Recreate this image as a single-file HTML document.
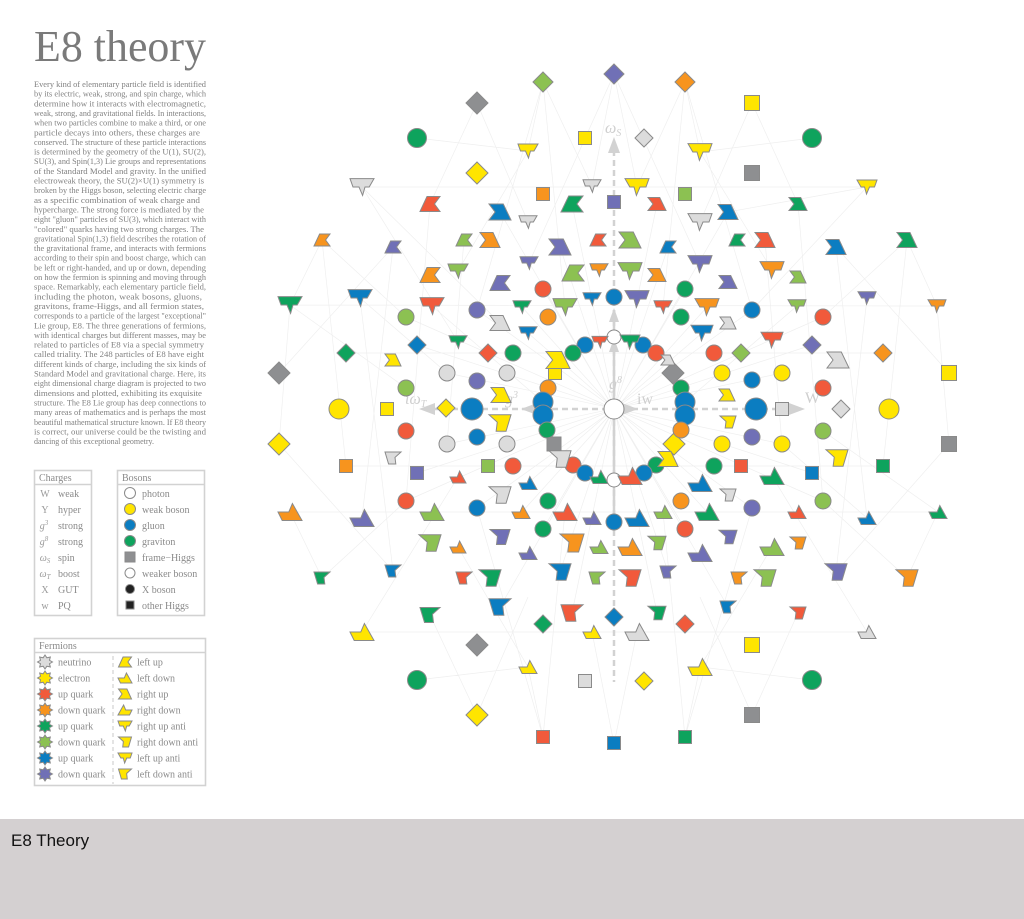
<!DOCTYPE html>
<html><head><meta charset="utf-8"><style>
html,body{margin:0;padding:0;background:#fff;}
body{width:1024px;height:919px;position:relative;overflow:hidden;}
#bar{position:absolute;left:0;top:819px;width:1024px;height:100px;background:#d4d0d1;}
.bt{position:absolute;left:11px;top:831px;font:17px "Liberation Sans",sans-serif;color:#111;}
svg text{font-family:"Liberation Serif",serif;}
.r{fill:#f15a3b}.o{fill:#f7941e}.g{fill:#0ea35d}.lg{fill:#8cc152}.b{fill:#0b7dc1}.p{fill:#7070b6}.y{fill:#ffe500}.lgr{fill:#dcdcdc}.dg{fill:#8e8f91}.w{fill:#fff}.k{fill:#222}
.sh circle,.sh rect,.sh use,.sh polygon{stroke:#8a8a8a;stroke-width:1}
</style></head><body>
<svg width="1024" height="819" viewBox="0 0 1024 819" style="position:absolute;left:0;top:0">
<defs>
<polygon id="FL" vector-effect="non-scaling-stroke" points="-1,-1 1,-1 0.6,0 0.25,0 0.05,1 -0.25,0 -0.75,0"/>
<polygon id="FR" vector-effect="non-scaling-stroke" points="1,-1 -1,-1 -0.6,0 -0.25,0 -0.05,1 0.25,0 0.75,0"/>
<polygon id="NL" vector-effect="non-scaling-stroke" points="-1,-1 0.3,-1 1,1 -1,1 -0.45,0"/>
<polygon id="NR" vector-effect="non-scaling-stroke" points="1,-1 -0.3,-1 -1,1 1,1 0.45,0"/>
<polygon id="PK" vector-effect="non-scaling-stroke" points="-1,0 -0.1,0 0.2,-1 1,1 -0.65,1"/>
<polygon id="PKM" vector-effect="non-scaling-stroke" points="1,0 0.1,0 -0.2,-1 -1,1 0.65,1"/>
<polygon id="Y" vector-effect="non-scaling-stroke" points="-1,-1 1,-1 0.55,1 -0.35,1 -0.25,-0.1"/>
<polygon id="W" vector-effect="non-scaling-stroke" points="1,-1 -1,-1 -0.55,1 0.35,1 0.25,-0.1"/>
<polygon id="ST" vector-effect="non-scaling-stroke" points="1,0 0.6,0.25 0.71,0.71 0.25,0.6 0,1 -0.25,0.6 -0.71,0.71 -0.6,0.25 -1,0 -0.6,-0.25 -0.71,-0.71 -0.25,-0.6 0,-1 0.25,-0.6 0.71,-0.71 0.6,-0.25"/>
</defs>

<text x="34" y="61" font-size="44" fill="#7a7a7a" textLength="172" lengthAdjust="spacingAndGlyphs">E8 theory</text>

<g font-size="8.6" fill="#808080">
<text x="34" y="87" textLength="172" lengthAdjust="spacingAndGlyphs">Every kind of elementary particle field is identified</text>
<text x="34" y="96.65" textLength="172" lengthAdjust="spacingAndGlyphs">by its electric, weak, strong, and spin charge, which</text>
<text x="34" y="106.3" textLength="172" lengthAdjust="spacingAndGlyphs">determine how it interacts with electromagnetic,</text>
<text x="34" y="115.95" textLength="172" lengthAdjust="spacingAndGlyphs">weak, strong, and gravitational fields. In interactions,</text>
<text x="34" y="125.6" textLength="172" lengthAdjust="spacingAndGlyphs">when two particles combine to make a third, or one</text>
<text x="34" y="135.25" textLength="166" lengthAdjust="spacingAndGlyphs">particle decays into others, these charges are</text>
<text x="34" y="144.9" textLength="172" lengthAdjust="spacingAndGlyphs">conserved. The structure of these particle interactions</text>
<text x="34" y="154.55" textLength="172" lengthAdjust="spacingAndGlyphs">is determined by the geometry of the U(1), SU(2),</text>
<text x="34" y="164.2" textLength="172" lengthAdjust="spacingAndGlyphs">SU(3), and Spin(1,3) Lie groups and representations</text>
<text x="34" y="173.85" textLength="172" lengthAdjust="spacingAndGlyphs">of the Standard Model and gravity. In the unified</text>
<text x="34" y="183.5" textLength="170" lengthAdjust="spacingAndGlyphs">electroweak theory, the SU(2)×U(1)  symmetry is</text>
<text x="34" y="193.15" textLength="172" lengthAdjust="spacingAndGlyphs">broken by the Higgs boson, selecting electric charge</text>
<text x="34" y="202.8" textLength="166" lengthAdjust="spacingAndGlyphs">as a specific combination of weak charge and</text>
<text x="34" y="212.45" textLength="170" lengthAdjust="spacingAndGlyphs">hypercharge. The strong force is mediated by the</text>
<text x="34" y="222.1" textLength="172" lengthAdjust="spacingAndGlyphs">eight "gluon" particles of SU(3), which interact with</text>
<text x="34" y="231.75" textLength="170" lengthAdjust="spacingAndGlyphs">"colored" quarks having two strong charges. The</text>
<text x="34" y="241.4" textLength="172" lengthAdjust="spacingAndGlyphs">gravitational Spin(1,3) field describes the rotation of</text>
<text x="34" y="251.05" textLength="172" lengthAdjust="spacingAndGlyphs">the gravitational frame, and interacts with fermions</text>
<text x="34" y="260.7" textLength="172" lengthAdjust="spacingAndGlyphs">according to their spin and boost charge, which can</text>
<text x="34" y="270.35" textLength="172" lengthAdjust="spacingAndGlyphs">be left or right-handed, and up or down, depending</text>
<text x="34" y="280" textLength="172" lengthAdjust="spacingAndGlyphs">on how the fermion is spinning and moving through</text>
<text x="34" y="289.65" textLength="172" lengthAdjust="spacingAndGlyphs">space. Remarkably, each elementary particle field,</text>
<text x="34" y="299.3" textLength="168" lengthAdjust="spacingAndGlyphs">including the photon, weak bosons, gluons,</text>
<text x="34" y="308.95" textLength="170" lengthAdjust="spacingAndGlyphs">gravitons, frame-Higgs, and all fermion states,</text>
<text x="34" y="318.6" textLength="172" lengthAdjust="spacingAndGlyphs">corresponds to a particle of the largest "exceptional"</text>
<text x="34" y="328.25" textLength="172" lengthAdjust="spacingAndGlyphs">Lie group, E8. The three generations of fermions,</text>
<text x="34" y="337.9" textLength="172" lengthAdjust="spacingAndGlyphs">with identical charges but different masses, may be</text>
<text x="34" y="347.55" textLength="170" lengthAdjust="spacingAndGlyphs">related to particles of E8 via a special symmetry</text>
<text x="34" y="357.2" textLength="170" lengthAdjust="spacingAndGlyphs">called triality. The 248 particles of E8 have eight</text>
<text x="34" y="366.85" textLength="172" lengthAdjust="spacingAndGlyphs">different kinds of charge, including the six kinds of</text>
<text x="34" y="376.5" textLength="172" lengthAdjust="spacingAndGlyphs">Standard Model and gravitational charge. Here, its</text>
<text x="34" y="386.15" textLength="172" lengthAdjust="spacingAndGlyphs">eight dimensional charge diagram is projected to two</text>
<text x="34" y="395.8" textLength="168" lengthAdjust="spacingAndGlyphs">dimensions and plotted, exhibiting its exquisite</text>
<text x="34" y="405.45" textLength="172" lengthAdjust="spacingAndGlyphs">structure. The E8 Lie group has deep connections to</text>
<text x="34" y="415.1" textLength="172" lengthAdjust="spacingAndGlyphs">many areas of mathematics and is perhaps the most</text>
<text x="34" y="424.75" textLength="172" lengthAdjust="spacingAndGlyphs">beautiful mathematical structure known. If E8 theory</text>
<text x="34" y="434.4" textLength="172" lengthAdjust="spacingAndGlyphs">is correct, our universe could be the twisting and</text>
<text x="34" y="444.05" textLength="120" lengthAdjust="spacingAndGlyphs">dancing of this exceptional geometry.</text>
</g>

<g fill="none" stroke="#d2d2d2" stroke-width="1.6">
<rect x="34.5" y="470.5" width="57" height="145"/>
<line x1="34.5" y1="484.5" x2="91.5" y2="484.5"/>
<rect x="117.5" y="470.5" width="87" height="145"/>
<line x1="117.5" y1="484.5" x2="204.5" y2="484.5"/>
<rect x="34.5" y="638.5" width="171" height="147"/>
<line x1="34.5" y1="652.5" x2="205.5" y2="652.5"/>
<line x1="113" y1="656" x2="113" y2="784" stroke-dasharray="4,3" stroke-width="1.2"/>
</g>
<g font-size="10" fill="#8a8a8a">
<text x="39" y="481">Charges</text>
<text x="122" y="481">Bosons</text>
<text x="39" y="649">Fermions</text>
<g text-anchor="middle" fill="#9a9a9a">
<text x="45" y="497">W</text>
<text x="45" y="513">Y</text>
<text x="44" y="529" font-style="italic">g<tspan font-size="7" dy="-4">3</tspan></text>
<text x="44" y="545" font-style="italic">g<tspan font-size="7" dy="-4">8</tspan></text>
<text x="45" y="561" font-style="italic">ω<tspan font-size="7" dy="2">S</tspan></text>
<text x="45" y="577" font-style="italic">ω<tspan font-size="7" dy="2">T</tspan></text>
<text x="45" y="593">X</text>
<text x="45" y="609">w</text>
</g>
<text x="58" y="497">weak</text>
<text x="58" y="513">hyper</text>
<text x="58" y="529">strong</text>
<text x="58" y="545">strong</text>
<text x="58" y="561">spin</text>
<text x="58" y="577">boost</text>
<text x="58" y="593">GUT</text>
<text x="58" y="609">PQ</text>
<text x="142" y="497">photon</text>
<text x="142" y="513">weak boson</text>
<text x="142" y="529">gluon</text>
<text x="142" y="545">graviton</text>
<text x="142" y="561">frame−Higgs</text>
<text x="142" y="577">weaker boson</text>
<text x="142" y="593">X boson</text>
<text x="142" y="609">other Higgs</text>
<text x="58" y="665.5">neutrino</text>
<text x="58" y="681.5">electron</text>
<text x="58" y="697.5">up quark</text>
<text x="58" y="713.5">down quark</text>
<text x="58" y="729.5">up quark</text>
<text x="58" y="745.5">down quark</text>
<text x="58" y="761.5">up quark</text>
<text x="58" y="777.5">down quark</text>
<text x="137" y="665.5">left up</text>
<text x="137" y="681.5">left down</text>
<text x="137" y="697.5">right up</text>
<text x="137" y="713.5">right down</text>
<text x="137" y="729.5">right up anti</text>
<text x="137" y="745.5">right down anti</text>
<text x="137" y="761.5">left up anti</text>
<text x="137" y="777.5">left down anti</text>
</g>
<g class="sh">
<circle cx="130" cy="493" r="5.5" class="w"/>
<circle cx="130" cy="509" r="5.5" class="y"/>
<circle cx="130" cy="525" r="5.5" class="b"/>
<circle cx="130" cy="541" r="5.5" class="g"/>
<rect x="125" y="552" width="10" height="10" class="dg"/>
<circle cx="130" cy="573" r="5" class="w"/>
<circle cx="130" cy="589" r="4.5" class="k"/>
<rect x="126" y="601" width="8" height="8" class="k"/>
<use href="#ST" class="lgr" transform="translate(45 662) scale(7.5 7)"/>
<use href="#ST" class="y" transform="translate(45 678) scale(7.5 7)"/>
<use href="#ST" class="r" transform="translate(45 694) scale(7.5 7)"/>
<use href="#ST" class="o" transform="translate(45 710) scale(7.5 7)"/>
<use href="#ST" class="g" transform="translate(45 726) scale(7.5 7)"/>
<use href="#ST" class="lg" transform="translate(45 742) scale(7.5 7)"/>
<use href="#ST" class="b" transform="translate(45 758) scale(7.5 7)"/>
<use href="#ST" class="p" transform="translate(45 774) scale(7.5 7)"/>
<use href="#NR" class="y" transform="translate(125 662) scale(6.5 5)"/>
<use href="#PK" class="y" transform="translate(125 678) scale(7 5)"/>
<use href="#NL" class="y" transform="translate(125 694) scale(6.5 5)"/>
<use href="#PKM" class="y" transform="translate(125 710) scale(7 5)"/>
<use href="#FL" class="y" transform="translate(125 726) scale(7 5)"/>
<use href="#Y" class="y" transform="translate(125 742) scale(6.5 5)"/>
<use href="#FR" class="y" transform="translate(125 758) scale(7 5)"/>
<use href="#W" class="y" transform="translate(125 774) scale(6.5 5)"/>
</g>

<path fill="none" stroke="#efefef" stroke-width="0.7" d="
M543 82L528 151M543 82L565 307M543 82L477 310M543 82L592 186
M614 74L592 186M614 74L637 187M614 74L529 263M614 74L700 264
M685 82L700 152M685 82L663 307M685 82L752 310M685 82L637 187
M477 103L528 222M477 103L430 204M752 103L700 222M752 103L798 204
M362 187L867 187M362 187L458 342M362 187L500 323M867 187L728 212M867 187L752 310
M322 240L290 305M322 240L346 466M322 240L406 317M907 240L937 306M907 240L883 466M907 240L823 317
M290 305L937 306M290 305L279 444M937 306L949 444
M393 247L362 518M836 247L867 518M430 204L406 501M798 204L823 501
M464 240L447 444M765 240L782 444M360 298L393 571M867 298L836 572
M432 306L543 402M797 306L685 402M346 353L883 353M346 466L883 466
M406 317L823 501M406 501L823 317M417 345L812 473M417 473L812 345
M543 737L528 667M543 737L565 512M614 744L592 632M614 744L637 632M685 737L700 667M685 737L663 512M685 737L752 508M543 737L477 508
M477 715L430 615M752 715L798 613M477 715L528 597M752 715L700 597
M362 632L867 632M867 632L772 476M362 632L458 477
M322 578L290 512M907 578L938 512M290 512L938 512M322 578L406 501M907 578L823 501
M477 310L752 508M752 310L477 508M522 307L707 512M707 307L522 512
M543 289L685 529M685 289L543 529M500 212L728 607M728 212L500 607
M447 373L782 444M447 444L782 373M528 333L700 483M702 333L528 483
M560 247L668 572M668 247L560 572M572 204L657 613M657 204L572 613
M279 373L393 247M279 444L393 571M949 373L836 247M949 444L836 572
M417 138L528 151M812 138L700 152M417 680L528 667M812 680L700 667
M290 305L406 388M938 512L823 431M360 298L447 373M867 518L782 444
M528 151L458 271M700 152L772 270M528 667L458 547M700 667L772 547"/>

<g stroke="#d2d2d2" fill="none">
<line x1="614" y1="150" x2="614" y2="682" stroke-width="2.5" stroke-dasharray="6,4"/>
<line x1="614" y1="310" x2="614" y2="522" stroke-width="2.5"/>
<line x1="432" y1="409" x2="795" y2="409" stroke-width="2.5" stroke-dasharray="6,4"/>
</g>
<g fill="#d2d2d2">
<polygon points="614,137 608,153 620,153"/>
<polygon points="614,308 609,322 619,322"/>
<polygon points="614,338 609,352 619,352"/>
<polygon points="419,409 435,403 435,415"/>
<polygon points="521,409 537,403 537,415"/>
<polygon points="638,409 622,403 622,415"/>
<polygon points="805,409 789,403 789,415"/>
</g>
<g fill="#cfcfcf" font-size="16">
<text x="605" y="133" font-style="italic">ω<tspan font-size="10" dy="3">S</tspan></text>
<text x="405" y="404" font-style="italic">ιω<tspan font-size="10" dy="3">T</tspan></text>
<text x="505" y="404" font-style="italic">g<tspan font-size="10" dy="-6">3</tspan></text>
<text x="609" y="389" font-style="italic">g<tspan font-size="10" dy="-6">8</tspan></text>
<text x="637" y="404">iw</text>
<text x="805" y="403">W</text>
</g>

<g class="sh">
<polygon class="dg" points="477,92 488,103 477,114 466,103"/>
<polygon class="y" points="477,162 488,173 477,184 466,173"/>
<polygon class="lg" points="543,72 553,82 543,92 533,82"/>
<polygon class="p" points="614,64 624,74 614,84 604,74"/>
<polygon class="o" points="685,72 695,82 685,92 675,82"/>
<polygon class="lgr" points="644,129 653,138 644,147 635,138"/>
<polygon class="y" points="477,704 488,715 477,726 466,715"/>
<polygon class="dg" points="477,634 488,645 477,656 466,645"/>
<polygon class="y" points="644,672 653,681 644,690 635,681"/>
<polygon class="dg" points="279,362 290,373 279,384 268,373"/>
<polygon class="y" points="279,433 290,444 279,455 268,444"/>
<polygon class="g" points="346,344 355,353 346,362 337,353"/>
<polygon class="o" points="883,344 892,353 883,362 874,353"/>
<polygon class="lgr" points="841,400 850,409 841,418 832,409"/>
<polygon class="y" points="446,399 455,408 446,417 437,408"/>
<polygon class="b" points="417,336 426,345 417,354 408,345"/>
<polygon class="r" points="488,344 497,353 488,362 479,353"/>
<polygon class="p" points="812,336 821,345 812,354 803,345"/>
<polygon class="lg" points="741,344 750,353 741,362 732,353"/>
<polygon class="dg" points="673,362 684,373 673,384 662,373"/>
<polygon class="y" points="674,433 685,444 674,455 663,444"/>
<polygon class="b" points="614,608 623,617 614,626 605,617"/>
<polygon class="g" points="543,615 552,624 543,633 534,624"/>
<polygon class="r" points="685,615 694,624 685,633 676,624"/>
<rect class="y" x="744.5" y="95.5" width="15" height="15"/>
<rect class="dg" x="744.5" y="165.5" width="15" height="15"/>
<rect class="y" x="578.5" y="131.5" width="13" height="13"/>
<rect class="o" x="536.5" y="187.5" width="13" height="13"/>
<rect class="lg" x="678.5" y="187.5" width="13" height="13"/>
<rect class="p" x="607.5" y="195.5" width="13" height="13"/>
<rect class="r" x="536.5" y="730.5" width="13" height="13"/>
<rect class="b" x="607.5" y="736.5" width="13" height="13"/>
<rect class="g" x="678.5" y="730.5" width="13" height="13"/>
<rect class="dg" x="744.5" y="707.5" width="15" height="15"/>
<rect class="y" x="744.5" y="637.5" width="15" height="15"/>
<rect class="lgr" x="578.5" y="674.5" width="13" height="13"/>
<rect class="y" x="941.5" y="365.5" width="15" height="15"/>
<rect class="dg" x="941.5" y="436.5" width="15" height="15"/>
<rect class="o" x="339.5" y="459.5" width="13" height="13"/>
<rect class="g" x="876.5" y="459.5" width="13" height="13"/>
<rect class="y" x="380.5" y="402.5" width="13" height="13"/>
<rect class="lgr" x="775.5" y="402.5" width="13" height="13"/>
<rect class="y" x="548.5" y="366.5" width="13" height="13"/>
<rect class="dg" x="547" y="437" width="14" height="14"/>
<rect class="p" x="410.5" y="466.5" width="13" height="13"/>
<rect class="lg" x="481.5" y="459.5" width="13" height="13"/>
<rect class="r" x="734.5" y="459.5" width="13" height="13"/>
<rect class="b" x="805.5" y="466.5" width="13" height="13"/>
<circle class="g" cx="417" cy="138" r="9.5"/>
<circle class="g" cx="812" cy="138" r="9.5"/>
<circle class="g" cx="417" cy="680" r="9.5"/>
<circle class="g" cx="812" cy="680" r="9.5"/>
<circle class="y" cx="339" cy="409" r="10"/>
<circle class="y" cx="889" cy="409" r="10"/>
<circle class="p" cx="477" cy="310" r="8"/>
<circle class="lg" cx="406" cy="317" r="8"/>
<circle class="b" cx="752" cy="310" r="8"/>
<circle class="r" cx="823" cy="317" r="8"/>
<circle class="r" cx="543" cy="289" r="8"/>
<circle class="g" cx="685" cy="289" r="8"/>
<circle class="b" cx="614" cy="297" r="8"/>
<circle class="o" cx="548" cy="317" r="8"/>
<circle class="g" cx="681" cy="317" r="8"/>
<circle class="g" cx="513" cy="353" r="8"/>
<circle class="r" cx="714" cy="353" r="8"/>
<circle class="lgr" cx="447" cy="373" r="8"/>
<circle class="lgr" cx="507" cy="373" r="8"/>
<circle class="p" cx="477" cy="381" r="8"/>
<circle class="lg" cx="406" cy="388" r="8"/>
<circle class="y" cx="722" cy="373" r="8"/>
<circle class="y" cx="782" cy="373" r="8"/>
<circle class="b" cx="752" cy="380" r="8"/>
<circle class="r" cx="823" cy="388" r="8"/>
<circle class="w" cx="614" cy="337" r="7"/>
<circle class="b" cx="585" cy="345" r="8"/>
<circle class="b" cx="643" cy="345" r="8"/>
<circle class="g" cx="573" cy="353" r="8"/>
<circle class="r" cx="656" cy="353" r="8"/>
<circle class="o" cx="548" cy="388" r="8"/>
<circle class="g" cx="681" cy="388" r="8"/>
<circle class="b" cx="543" cy="402" r="10"/>
<circle class="b" cx="685" cy="402" r="10"/>
<circle class="b" cx="543" cy="415" r="10"/>
<circle class="b" cx="685" cy="415" r="10"/>
<circle class="w" cx="614" cy="409" r="10"/>
<circle class="b" cx="472" cy="409" r="11"/>
<circle class="b" cx="756" cy="409" r="11"/>
<circle class="g" cx="547" cy="430" r="8"/>
<circle class="o" cx="681" cy="430" r="8"/>
<circle class="r" cx="573" cy="465" r="8"/>
<circle class="g" cx="656" cy="465" r="8"/>
<circle class="b" cx="585" cy="473" r="8"/>
<circle class="b" cx="644" cy="473" r="8"/>
<circle class="w" cx="614" cy="480" r="7"/>
<circle class="lgr" cx="447" cy="444" r="8"/>
<circle class="lgr" cx="507" cy="444" r="8"/>
<circle class="y" cx="722" cy="444" r="8"/>
<circle class="y" cx="782" cy="444" r="8"/>
<circle class="b" cx="477" cy="437" r="8"/>
<circle class="p" cx="752" cy="437" r="8"/>
<circle class="r" cx="406" cy="431" r="8"/>
<circle class="lg" cx="823" cy="431" r="8"/>
<circle class="r" cx="513" cy="466" r="8"/>
<circle class="g" cx="714" cy="466" r="8"/>
<circle class="r" cx="406" cy="501" r="8"/>
<circle class="b" cx="477" cy="508" r="8"/>
<circle class="g" cx="548" cy="501" r="8"/>
<circle class="o" cx="681" cy="501" r="8"/>
<circle class="p" cx="752" cy="508" r="8"/>
<circle class="lg" cx="823" cy="501" r="8"/>
<circle class="b" cx="614" cy="522" r="8"/>
<circle class="g" cx="543" cy="529" r="8"/>
<circle class="r" cx="685" cy="529" r="8"/>

<use href="#FL" class="lgr" transform="translate(362 187) scale(12 8.4)"/>
<use href="#FR" class="y" transform="translate(867 187) scale(10 7)"/>
<use href="#FL" class="y" transform="translate(528 151) scale(10 7)"/>
<use href="#FR" class="y" transform="translate(700 152) scale(12 8.4)"/>
<use href="#FL" class="lgr" transform="translate(592 186) scale(9 6.3)"/>
<use href="#FR" class="y" transform="translate(637 187) scale(12 8.4)"/>
<use href="#NR" class="r" transform="translate(430 204) scale(10 7.5)"/>
<use href="#NL" class="b" transform="translate(500 212) scale(11 8)"/>
<use href="#NR" class="g" transform="translate(572 204) scale(11 8)"/>
<use href="#NL" class="r" transform="translate(657 204) scale(9 6.5)"/>
<use href="#NL" class="b" transform="translate(728 212) scale(10 7.5)"/>
<use href="#NL" class="g" transform="translate(798 204) scale(9 6.5)"/>
<use href="#FL" class="lgr" transform="translate(528 222) scale(9 6.3)"/>
<use href="#FR" class="lgr" transform="translate(700 222) scale(12 8.4)"/>
<use href="#NR" class="o" transform="translate(322 240) scale(8 6)"/>
<use href="#NR" class="p" transform="translate(393 247) scale(8 6)"/>
<use href="#NR" class="lg" transform="translate(464 240) scale(8 6)"/>
<use href="#NL" class="o" transform="translate(490 240) scale(10 7.5)"/>
<use href="#NL" class="p" transform="translate(560 247) scale(11 8)"/>
<use href="#NR" class="r" transform="translate(598 240) scale(8 6)"/>
<use href="#NL" class="lg" transform="translate(630 240) scale(11 8)"/>
<use href="#NR" class="b" transform="translate(668 247) scale(8 6)"/>
<use href="#NR" class="g" transform="translate(737 240) scale(8 6)"/>
<use href="#NL" class="r" transform="translate(765 240) scale(10 7.5)"/>
<use href="#NL" class="b" transform="translate(836 247) scale(10 7.5)"/>
<use href="#NL" class="g" transform="translate(907 240) scale(10 7.5)"/>
<use href="#FL" class="p" transform="translate(529 263) scale(9 6.3)"/>
<use href="#FR" class="p" transform="translate(700 264) scale(12 8.4)"/>
<use href="#NR" class="lg" transform="translate(573 273) scale(11 8)"/>
<use href="#FL" class="o" transform="translate(599 270) scale(9 6.3)"/>
<use href="#FR" class="lg" transform="translate(630 271) scale(12 8.4)"/>
<use href="#NL" class="o" transform="translate(657 275) scale(9 6.5)"/>
<use href="#NL" class="p" transform="translate(728 282) scale(9 6.5)"/>
<use href="#NR" class="o" transform="translate(430 275) scale(10 7.5)"/>
<use href="#FL" class="lg" transform="translate(458 271) scale(10 7)"/>
<use href="#NR" class="p" transform="translate(500 283) scale(10 7.5)"/>
<use href="#FR" class="o" transform="translate(772 270) scale(12 8.4)"/>
<use href="#NL" class="lg" transform="translate(798 277) scale(8 6)"/>
<use href="#FL" class="g" transform="translate(290 305) scale(12 8.4)"/>
<use href="#FL" class="b" transform="translate(360 298) scale(12 8.4)"/>
<use href="#FL" class="r" transform="translate(432 306) scale(12 8.4)"/>
<use href="#FL" class="g" transform="translate(522 307) scale(9 6.3)"/>
<use href="#FL" class="lg" transform="translate(565 307) scale(12 8.4)"/>
<use href="#FL" class="b" transform="translate(592 299) scale(9 6.3)"/>
<use href="#FR" class="p" transform="translate(637 299) scale(12 8.4)"/>
<use href="#FL" class="r" transform="translate(663 307) scale(9 6.3)"/>
<use href="#FR" class="o" transform="translate(707 307) scale(12 8.4)"/>
<use href="#FR" class="p" transform="translate(867 298) scale(9 6.3)"/>
<use href="#FR" class="lg" transform="translate(797 306) scale(9 6.3)"/>
<use href="#FR" class="o" transform="translate(937 306) scale(9 6.3)"/>
<use href="#NL" class="lgr" transform="translate(500 323) scale(10 7.5)"/>
<use href="#NL" class="lgr" transform="translate(728 323) scale(8 6)"/>
<use href="#FL" class="b" transform="translate(528 333) scale(9 6.3)"/>
<use href="#FR" class="b" transform="translate(702 333) scale(11 7.7)"/>
<use href="#FL" class="g" transform="translate(458 342) scale(9 6.3)"/>
<use href="#FR" class="r" transform="translate(772 340) scale(11 7.7)"/>
<use href="#NL" class="lgr" transform="translate(838 360) scale(11 8)"/>
<use href="#NL" class="y" transform="translate(393 360) scale(8 6)"/>
<use href="#FL" class="r" transform="translate(600 342) scale(8 5.6)"/>
<use href="#FR" class="g" transform="translate(630 342) scale(10 7)"/>
<use href="#NL" class="y" transform="translate(558 360) scale(12 8.5)"/>
<use href="#NL" class="lgr" transform="translate(668 360) scale(7 5)"/>
<use href="#NL" class="y" transform="translate(501 395) scale(10 7.5)"/>
<use href="#NL" class="y" transform="translate(727 395) scale(8 6)"/>

<use href="#Y" class="lgr" transform="translate(560 459) scale(11 8.25)"/>
<use href="#NL" class="y" transform="translate(668 459) scale(10 7.5)"/>
<use href="#PK" class="g" transform="translate(599 477) scale(9 6.5)"/>
<use href="#PK" class="r" transform="translate(630 476) scale(12 8.5)"/>
<use href="#Y" class="y" transform="translate(500 423) scale(11 8.25)"/>
<use href="#Y" class="y" transform="translate(728 422) scale(8 6)"/>
<use href="#W" class="lgr" transform="translate(393 458) scale(8 6)"/>
<use href="#Y" class="y" transform="translate(837 458) scale(11 8.25)"/>
<use href="#PK" class="r" transform="translate(458 477) scale(8 6)"/>
<use href="#PK" class="g" transform="translate(772 476) scale(12 8.5)"/>
<use href="#PK" class="b" transform="translate(528 483) scale(9 6.5)"/>
<use href="#PK" class="b" transform="translate(700 483) scale(12 8.5)"/>
<use href="#Y" class="lgr" transform="translate(500 495) scale(11 8.25)"/>
<use href="#Y" class="lgr" transform="translate(728 495) scale(8 6)"/>
<use href="#PK" class="o" transform="translate(290 512) scale(12 8.5)"/>
<use href="#PK" class="p" transform="translate(362 518) scale(12 8.5)"/>
<use href="#PK" class="lg" transform="translate(432 512) scale(12 8.5)"/>
<use href="#PK" class="o" transform="translate(521 512) scale(9 6.5)"/>
<use href="#PK" class="r" transform="translate(565 512) scale(12 8.5)"/>
<use href="#PK" class="p" transform="translate(592 518) scale(9 6.5)"/>
<use href="#PK" class="b" transform="translate(637 518) scale(12 8.5)"/>
<use href="#PK" class="lg" transform="translate(663 512) scale(9 6.5)"/>
<use href="#PK" class="g" transform="translate(707 512) scale(12 8.5)"/>
<use href="#PK" class="r" transform="translate(797 512) scale(9 6.5)"/>
<use href="#PK" class="b" transform="translate(867 518) scale(9 6.5)"/>
<use href="#PK" class="g" transform="translate(938 512) scale(9 6.5)"/>
<use href="#Y" class="p" transform="translate(500 537) scale(10 7.5)"/>
<use href="#Y" class="p" transform="translate(728 537) scale(9 6.75)"/>
<use href="#Y" class="lg" transform="translate(430 543) scale(11 8.25)"/>
<use href="#PK" class="o" transform="translate(458 547) scale(8 6)"/>
<use href="#Y" class="o" transform="translate(572 543) scale(12 9)"/>
<use href="#PK" class="lg" transform="translate(599 547) scale(9 6.5)"/>
<use href="#PK" class="o" transform="translate(630 547) scale(12 8.5)"/>
<use href="#Y" class="lg" transform="translate(657 543) scale(9 6.75)"/>
<use href="#PK" class="lg" transform="translate(772 547) scale(12 8.5)"/>
<use href="#Y" class="o" transform="translate(798 543) scale(8 6)"/>
<use href="#PK" class="p" transform="translate(528 553) scale(9 6.5)"/>
<use href="#PK" class="p" transform="translate(700 553) scale(12 8.5)"/>
<use href="#W" class="g" transform="translate(322 578) scale(8 6)"/>
<use href="#W" class="b" transform="translate(393 571) scale(8 6)"/>
<use href="#W" class="r" transform="translate(464 578) scale(8 6)"/>
<use href="#Y" class="g" transform="translate(490 578) scale(11 8.25)"/>
<use href="#Y" class="b" transform="translate(560 572) scale(11 8.25)"/>
<use href="#W" class="lg" transform="translate(597 578) scale(8 6)"/>
<use href="#Y" class="r" transform="translate(630 578) scale(11 8.25)"/>
<use href="#W" class="p" transform="translate(668 572) scale(8 6)"/>
<use href="#W" class="o" transform="translate(739 578) scale(8 6)"/>
<use href="#Y" class="lg" transform="translate(765 578) scale(11 8.25)"/>
<use href="#Y" class="p" transform="translate(836 572) scale(11 8.25)"/>
<use href="#Y" class="o" transform="translate(907 578) scale(11 8.25)"/>
<use href="#W" class="b" transform="translate(500 607) scale(11 8.25)"/>
<use href="#W" class="b" transform="translate(728 607) scale(8 6)"/>
<use href="#W" class="g" transform="translate(430 615) scale(10 7.5)"/>
<use href="#W" class="r" transform="translate(572 613) scale(11 8.25)"/>
<use href="#Y" class="g" transform="translate(657 613) scale(9 6.75)"/>
<use href="#Y" class="r" transform="translate(798 613) scale(8 6)"/>
<use href="#PK" class="y" transform="translate(362 632) scale(12 8.5)"/>
<use href="#PK" class="y" transform="translate(592 632) scale(9 6.5)"/>
<use href="#PK" class="lgr" transform="translate(637 632) scale(12 8.5)"/>
<use href="#PK" class="lgr" transform="translate(867 632) scale(9 6.5)"/>
<use href="#PK" class="y" transform="translate(528 667) scale(9 6.5)"/>
<use href="#PK" class="y" transform="translate(700 667) scale(12 8.5)"/>
</g>
</svg>
<div id="bar"></div>
<div class="bt">E8 Theory</div>
</body></html>
